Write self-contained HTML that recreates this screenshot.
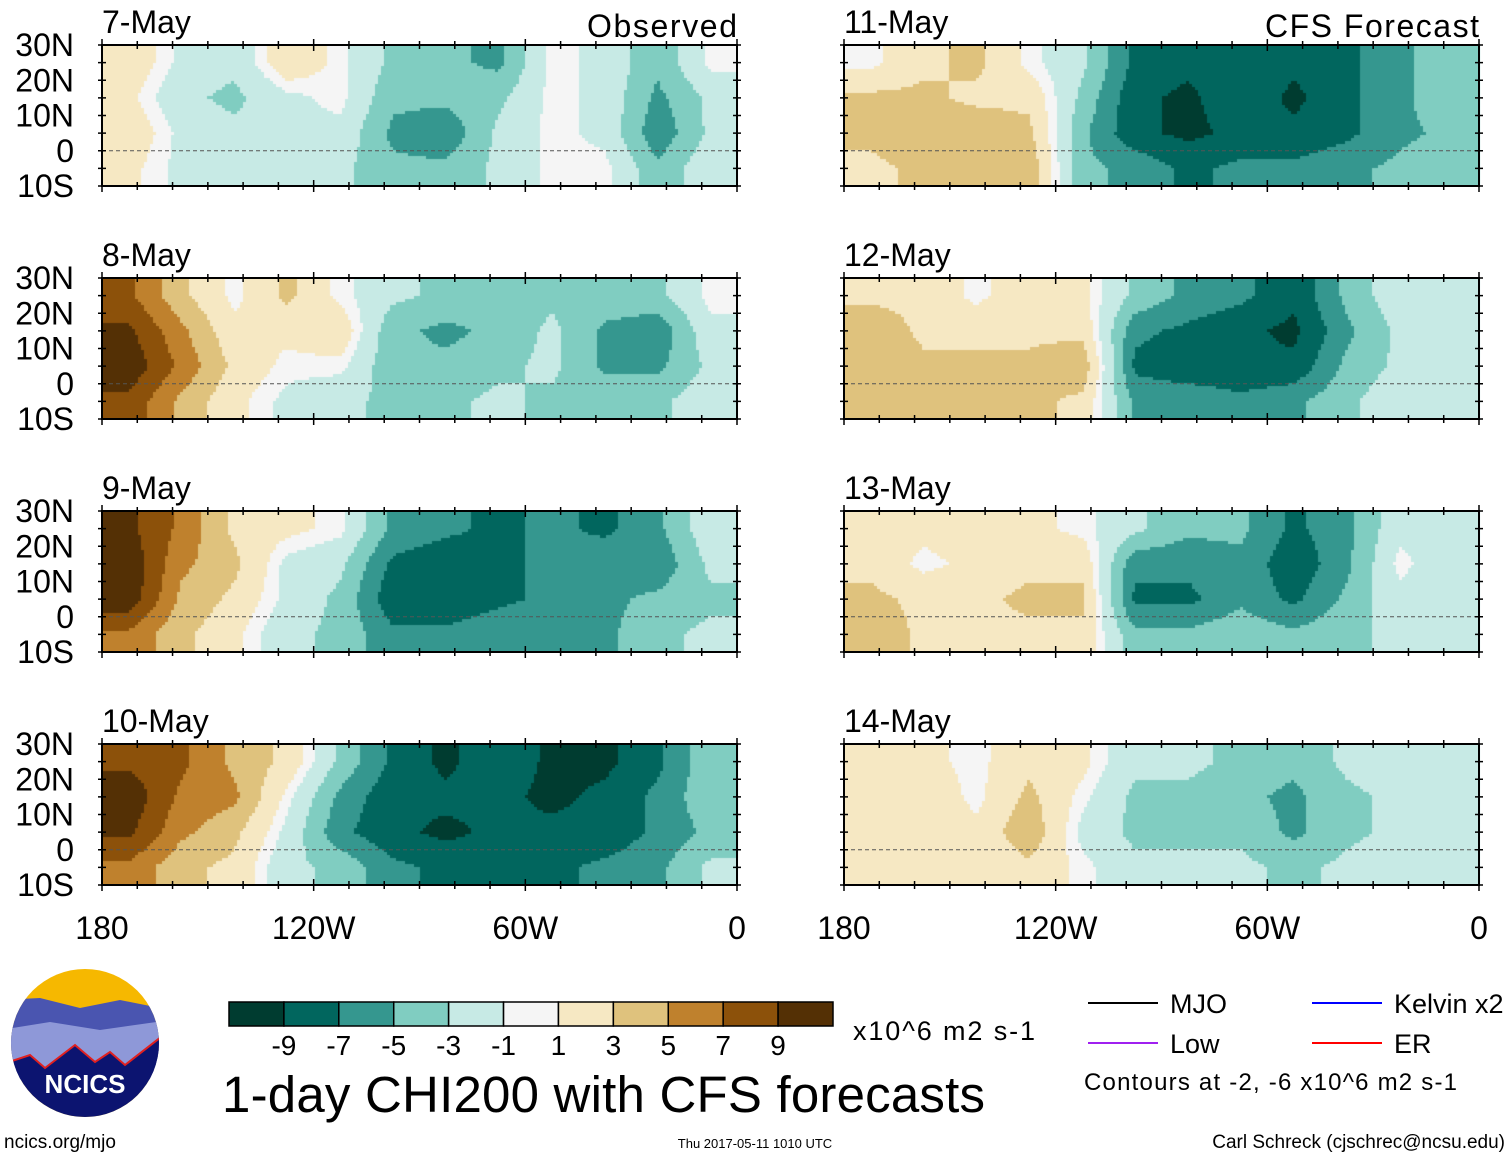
<!DOCTYPE html>
<html><head><meta charset="utf-8">
<style>
html,body{margin:0;padding:0;background:#fff;}
#wrap{position:relative;width:1510px;height:1158px;overflow:hidden;font-family:"Liberation Sans",sans-serif;}
canvas,svg{position:absolute;left:0;top:0;}
</style></head>
<body>
<div id="wrap">
<canvas id="cv" width="1510" height="1158"></canvas>
<svg id="sv" width="1510" height="1158" xmlns="http://www.w3.org/2000/svg"></svg>
</div>
<script>
// ---- data ----
const panelTitles = ["7-May","8-May","9-May","10-May","11-May","12-May","13-May","14-May"];
const lonLabels = ["180","120W","60W","0"];
const latLabels = ["30N","20N","10N","0","10S"];
const cbarLabels = ["-9","-7","-5","-3","-1","1","3","5","7","9"];
const palette = ["#003c30","#01665e","#35978f","#80cdc1","#c7eae5","#f5f5f5","#f6e8c3","#dfc27d","#bf812d","#8c510a","#543005"];
// fields: 12 lon columns (180 -> 0, 15 deg each) x 4 lat rows (30N-20N,20-10,10-0,0-10S)
const may7  = [[2,1,2,1],[-1,-2,-1,-1],[-2,-3,-2,-1],[2,-1,-1,-2],[0,0,-1,-2],[-3,-4,-5,-4],[-4,-4,-6,-4],[-5,-3,-2,-2],[0,0,0,0],[-1,-1,-1,0],[-4,-5,-6,-4],[0,-2,-2,-1]];
const may8  = [[7,9,10,8],[3,5,6,4],[0,1,2,1],[3,1,0,-1],[0,2,0,-2],[-2,-4,-4,-3],[-3,-5,-4,-3],[-4,-4,-3,-2],[-3,-2,-2,-3],[-3,-5,-5,-3],[-3,-6,-5,-3],[0,-1,-2,-1]];
const may9  = [[9,10,10,6],[6,5,4,3],[2,3,2,1],[1,-1,-1,-2],[0,-2,-3,-3],[-5,-7,-8,-6],[-6,-8,-8,-6],[-7,-7,-7,-5],[-6,-6,-6,-5],[-7,-5,-5,-5],[-5,-6,-4,-3],[-1,-2,-3,-2]];
const may10 = [[8,10,9,6],[7,6,5,3],[4,5,3,2],[2,0,-1,-2],[-3,-5,-6,-3],[-7,-8,-8,-6],[-9,-8,-9,-7],[-7,-8,-8,-7],[-9,-9,-8,-7],[-9,-8,-8,-6],[-7,-6,-6,-5],[-3,-3,-4,-2]];
const may11 = [[0,3,3,2],[2,3,4,3],[3,2,4,3],[0,2,3,4],[-2,-3,-4,-4],[-7,-8,-8,-5],[-8,-9,-9,-7],[-7,-7,-8,-6],[-8,-9,-8,-6],[-7,-7,-7,-5],[-5,-5,-5,-4],[-3,-3,-4,-3]];
const may12 = [[2,4,4,3],[2,2,3,3],[0,2,3,3],[2,2,3,3],[1,2,4,2],[-3,-6,-7,-5],[-5,-7,-8,-5],[-6,-8,-8,-6],[-8,-9,-8,-5],[-4,-5,-4,-3],[-1,-2,-2,-1],[-1,-2,-2,-1]];
const may13 = [[2,2,3,4],[1,0,2,2],[2,1,2,2],[1,2,3,2],[0,2,3,2],[-2,-6,-7,-4],[-4,-6,-7,-4],[-4,-5,-5,-3],[-7,-8,-7,-4],[-5,-5,-4,-3],[-1,0,-1,-2],[-1,-2,-2,-1]];
const may14 = [[2,2,2,1],[1,2,2,1],[0,0,1,1],[2,3,4,2],[1,0,-1,0],[-2,-3,-3,-2],[-2,-3,-4,-1],[-3,-4,-3,-2],[-4,-5,-5,-3],[-2,-3,-3,-2],[-1,-2,-2,-1],[-2,-2,-2,-1]];
const fields = [may7,may8,may9,may10,may11,may12,may13,may14];

// ---- layout ----
const colX = [102,844], PW = 635, rowY = [45,278,511,744], PH = 141;
function panelPos(i){return {x:colX[i<4?0:1], y:rowY[i%4]};}
function lonToX(p,lonW){return p.x + (180-lonW)/180*PW;}
function latToY(p,lat){return p.y + (30-lat)/40*PH;}
function colorIdx(v){const s=Math.sign(v);const k=Math.max(0,Math.ceil((Math.abs(v)-0.5)/2));return Math.min(10,Math.max(0,5+s*k));}

// ---- draw fields ----
const ctx=document.getElementById('cv').getContext('2d');
const step=3;
fields.forEach((f,i)=>{
  const p=panelPos(i), nc=f.length, nr=f[0].length;
  for(let py=0;py<PH;py+=step){
    for(let px=0;px<PW;px+=step){
      let u=(px+step/2)/PW*nc-0.5, v=(py+step/2)/PH*nr-0.5;
      u=Math.max(0,Math.min(nc-1,u)); v=Math.max(0,Math.min(nr-1,v));
      const u0=Math.floor(u),v0=Math.floor(v),u1=Math.min(nc-1,u0+1),v1=Math.min(nr-1,v0+1);
      const fu=u-u0,fv=v-v0;
      const val=(f[u0][v0]*(1-fu)+f[u1][v0]*fu)*(1-fv)+(f[u0][v1]*(1-fu)+f[u1][v1]*fu)*fv;
      ctx.fillStyle=palette[colorIdx(val)];
      ctx.fillRect(p.x+px,p.y+py,step,step);
    }
  }
});

// ---- svg overlay ----
const NS="http://www.w3.org/2000/svg", sv=document.getElementById('sv');
function mk(tag,attrs,parent){const e=document.createElementNS(NS,tag);for(const k in attrs)e.setAttribute(k,attrs[k]);(parent||sv).appendChild(e);return e;}
function txt(s,x,y,size,anchor,parent){const t=mk('text',{x:x,y:y,'font-size':size,'text-anchor':anchor||'start','font-family':'Liberation Sans, sans-serif',fill:'#000'},parent);t.textContent=s;return t;}

fields.forEach((f,i)=>{
  const p=panelPos(i);
  const g=mk('g',{});
  
  
  const eq=mk('line',{x1:p.x,x2:p.x+PW,y1:latToY(p,0),y2:latToY(p,0),stroke:'#555','stroke-width':1,'stroke-dasharray':'4,3'},g);
  
  
  const fr=mk('rect',{x:p.x,y:p.y,width:PW,height:PH,fill:'none',stroke:'#000','stroke-width':2},g);
  
  
  for(let lon=180;lon>=0;lon-=10){
    const x=lonToX(p,lon), big=(lon%60===0);
    mk('line',{x1:x,x2:x,y1:p.y-(big?6:4),y2:p.y+(big?6:4),stroke:'#000','stroke-width':1.5},g);
    mk('line',{x1:x,x2:x,y1:p.y+PH-(big?6:4),y2:p.y+PH+(big?6:4),stroke:'#000','stroke-width':1.5},g);
  }
  for(let lat=30;lat>=-10;lat-=5){
    const y=latToY(p,lat);
    mk('line',{x1:p.x-4,x2:p.x+4,y1:y,y2:y,stroke:'#000','stroke-width':1.5},g);
    mk('line',{x1:p.x+PW-4,x2:p.x+PW+4,y1:y,y2:y,stroke:'#000','stroke-width':1.5},g);
  }
  const t=txt(panelTitles[i],p.x,p.y-12,32,'start',g);
  
  
  if(i<4){
    latLabels.forEach((l,j)=>{
      const lt=txt(l,74,latToY(p,30-10*j)+11,32,'end',g);
      
      
    });
  }
  if(i%4===3){
    lonLabels.forEach((l,j)=>{
      const lt=txt(l,lonToX(p,180-60*j),p.y+PH+54,32,'middle',g);
      
      
    });
  }
});
const ob=txt("Observed",737,37,32,'end');


ob.setAttribute('textLength','150');
const cf=txt("CFS Forecast",1479,37,32,'end');


cf.setAttribute('textLength','214');

// colorbar
const cb=mk('g',{});


const cbX=229, cbW=604/11;
palette.forEach((c,k)=>{
  const r=mk('rect',{x:cbX+k*cbW,y:1002,width:cbW,height:24,fill:c,stroke:'#000','stroke-width':1.5},cb);
  
  
});
cbarLabels.forEach((l,k)=>{
  const t=txt(l,cbX+(k+1)*cbW,1055,28,'middle',cb);
  
  
});
const un=txt("x10^6 m2 s-1",853,1040,27,'start');


un.setAttribute('textLength','182');
const ti=txt("1-day CHI200 with CFS forecasts",222,1112,51,'start');


ti.setAttribute('textLength','763');

// legend
const lg=mk('g',{});


const legItems=[["MJO","#000",1088,1003],["Kelvin x2","#0000ff",1312,1003],["Low","#a020f0",1088,1043],["ER","#ff0000",1312,1043]];
legItems.forEach(it=>{
  const e=mk('g',{},lg);
  
  
  mk('line',{x1:it[2],x2:it[2]+70,y1:it[3],y2:it[3],stroke:it[1],'stroke-width':2},e);
  txt(it[0],it[2]+82,it[3]+10,27,'start',e);
});
const ca=txt("Contours at -2, -6 x10^6 m2 s-1",1084,1090,24,'start');


ca.setAttribute('textLength','373');

// logo
const lo=mk('g',{});


mk('defs',{},lo).innerHTML='<clipPath id="lc"><circle cx="85" cy="1043" r="74"/></clipPath>';
const lc=mk('g',{'clip-path':'url(#lc)'},lo);
mk('rect',{x:0,y:960,width:170,height:170,fill:'#f6b800'},lc);
mk('path',{d:'M0 1000 L40 998 L80 1008 L120 1000 L170 1010 L170 1080 L0 1080 Z',fill:'#4a55b0'},lc);
mk('path',{d:'M0 1030 L50 1022 L100 1030 L170 1020 L170 1080 L0 1080 Z',fill:'#8e98d8'},lc);
mk('path',{d:'M0 1065 L30 1055 L45 1068 L75 1045 L95 1062 L110 1052 L125 1065 L170 1030 L170 1130 L0 1130 Z',fill:'#0c1470',stroke:'#e02020','stroke-width':2},lc);
const lt=txt("NCICS",85,1093,26,'middle',lo);
lt.setAttribute('font-weight','bold');lt.setAttribute('fill','#fff');

const f1=txt("ncics.org/mjo",4,1148,19,'start');


const f2=txt("Thu 2017-05-11 1010 UTC",755,1148,13,'middle');


const f3=txt("Carl Schreck (cjschrec@ncsu.edu)",1505,1148,19,'end');


</script>
</body></html>
